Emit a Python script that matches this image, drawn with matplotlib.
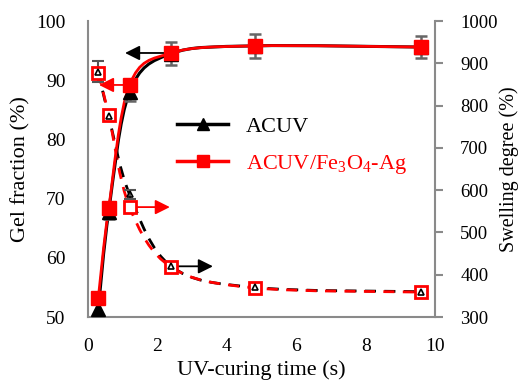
import matplotlib
matplotlib.use('Agg')
import matplotlib.pyplot as plt
import numpy as np
from matplotlib.path import Path
from matplotlib.patches import PathPatch
from matplotlib.lines import Line2D

# Data
# ----------------------------------------------------------------------------

time = [0.3, 0.6, 1.2, 2.4, 4.8, 9.6]          # UV-curing time [s]

gel_acuv = [51.3, 67.8, 88.0, 94.5, 95.8, 95.6]
gel_fe = [53.2, 68.4, 89.2, 94.6, 95.8, 95.6]
gel_err = [1.0, 1.2, 1.5, 1.9, 2.0, 1.8]

sw_acuv = [880, 775, 590, 420, 370, 360]
sw_fe = [877, 778, 560, 418, 369, 359]
sw_err = [25, 10, 10, 8, 6, 6]

plt.rcParams['font.family'] = ['Liberation Serif', 'DejaVu Serif']
plt.rcParams['mathtext.fontset'] = 'custom'
plt.rcParams['mathtext.rm'] = 'Liberation Serif'

grey = '#8a8a8a'


def smooth(ax, x, y, color, ls='-', lw=2.0):
    # Excel-like smoothed line: Catmull-Rom segments as cubic Beziers
    p = np.column_stack([x, y]).astype(float)
    n = len(p)
    verts = [p[0]]
    codes = [Path.MOVETO]
    for i in range(n - 1):
        p0 = p[max(i - 1, 0)]
        p1 = p[i]
        p2 = p[i + 1]
        p3 = p[min(i + 2, n - 1)]
        verts += [p1 + (p2 - p0) / 6, p2 - (p3 - p1) / 6, p2]
        codes += [Path.CURVE4] * 3
    patch = PathPatch(Path(verts, codes), fill=False, edgecolor=color,
                      lw=lw, ls=ls, capstyle='butt')
    ax.add_patch(patch)


def arrow(ax, x0, x1, y, color):
    ax.annotate('', xy=(x1, y), xytext=(x0, y),
                arrowprops=dict(arrowstyle='-|>', color=color, lw=1.3,
                                mutation_scale=22, shrinkA=0, shrinkB=0))


fig = plt.figure(figsize=(5.2, 3.82), dpi=100)
ax = fig.add_axes([0.169, 0.170, 0.668, 0.775])
ax2 = ax.twinx()

# Swelling degree (right axis, dashed, hollow markers)
ax2.errorbar(time, sw_acuv, yerr=sw_err, fmt='none', ecolor='#555555',
             elinewidth=1.5, capsize=4, capthick=1.5, zorder=2)
smooth(ax2, time, sw_acuv, 'black', ls=(0, (4, 3)))
smooth(ax2, time, sw_fe, 'red', ls=(0, (4, 3)))
ax2.plot(time, sw_fe, ls='none', marker='s', ms=9, mfc='white', mec='red',
         mew=2, zorder=4)
ax2.plot(time, sw_acuv, ls='none', marker='^', ms=5, mfc='none', mec='black',
         mew=1.2, zorder=5)
arrow(ax2, 1.2, 2.36, sw_fe[2], 'red')
arrow(ax2, 2.4, 3.6, sw_acuv[3], 'black')

# Gel fraction (left axis, solid, filled markers)
ax.errorbar(time, gel_acuv, yerr=gel_err, fmt='none', ecolor='#666666',
            elinewidth=1.8, capsize=4.5, capthick=1.8, zorder=2)
smooth(ax, time, gel_acuv, 'black', lw=2.2)
smooth(ax, time, gel_fe, 'red', lw=2.0)
ax.plot(time, gel_acuv, ls='none', marker='^', ms=10, color='black', zorder=4)
ax.plot(time, gel_fe, ls='none', marker='s', ms=10, color='red', zorder=5)
arrow(ax, 2.4, 1.07, gel_fe[3], 'black')
arrow(ax, 1.2, 0.32, gel_fe[2], 'red')

ax.set_zorder(ax2.get_zorder() + 1)
ax.patch.set_visible(False)

ax.set_xlim(0, 10)
ax.set_ylim(50, 100)
ax2.set_ylim(300, 1000)
ax.set_xticks(np.arange(0, 11, 2))
ax.set_yticks(np.arange(50, 101, 10))
ax2.set_yticks(np.arange(300, 1001, 100))

for a in (ax, ax2):
    a.spines['top'].set_visible(False)
    for s in a.spines.values():
        s.set_color(grey)
        s.set_linewidth(1.5)
ax.spines['right'].set_visible(False)
ax2.spines['left'].set_visible(False)
ax2.spines['bottom'].set_visible(False)

ax.tick_params(axis='both', length=0, labelsize=14)
ax.tick_params(axis='x', pad=15)
ax.tick_params(axis='y', pad=16)
ax2.tick_params(axis='y', length=6, width=1.5, color=grey, labelsize=13.5,
                pad=12)

ax.set_xlabel('UV-curing time (s)', fontsize=16, labelpad=4)
ax.set_ylabel('Gel fraction (%)', fontsize=16, labelpad=4)
ax2.set_ylabel('Swelling degree (%)', fontsize=14.5, labelpad=1)

handles = [
    Line2D([], [], color='black', lw=2.5, marker='^', ms=9),
    Line2D([], [], color='red', lw=2.5, marker='s', ms=9),
]
leg = ax.legend(handles, ['ACUV', r'ACUV/Fe$_3$O$_4$-Ag'], loc='upper left',
                bbox_to_anchor=(0.20, 0.745), frameon=False, fontsize=16,
                handlelength=2.3, labelspacing=0.7, handletextpad=0.8)
leg.get_texts()[0].set_color('black')
leg.get_texts()[1].set_color('red')

fig.savefig('out.png', dpi=100)
